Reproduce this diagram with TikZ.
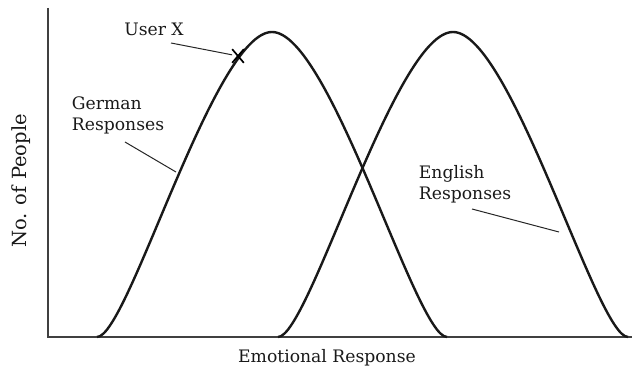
\documentclass[tikz,border=0pt]{standalone}
\usepackage{fontspec}
\setmainfont{DejaVu Serif}
\usetikzlibrary{shapes.misc}
\begin{document}
\begin{tikzpicture}[x=1pt,y=-1pt]
    \tikzstyle{every node}=[inner sep=0pt, font=\fontsize{17.2}{21}\selectfont, text=black!90]
    \tikzstyle{curve}=[black!90, line width=2.4pt]
    \tikzstyle{axis}=[black!75, line width=1.4pt]
    \tikzstyle{leader}=[black!85, line width=1pt]

    \useasboundingbox (0,0) rectangle (633,371);

    \coordinate (o) at (48,337);
    \coordinate (ytop) at (48,8);
    \coordinate (xend) at (632,337);
    \draw[axis] (ytop) -- (o) -- (xend);

    \draw[curve] (97,337) .. controls (128,337) and (214,32) .. (272,32)
                          .. controls (330,32) and (416,337) .. (447,337);
    \draw[curve] (278,337) .. controls (309,337) and (395,32) .. (453,32)
                           .. controls (511,32) and (597,337) .. (628,337);

    \node (people)  at (21,181) [rotate=90, font=\fontsize{19.5}{21}\selectfont] {No. of People};
    \node (emotion) at (327,358) {Emotional Response};

    \node (userx) at (154,29) {User X};
    \node (mark) at (238,56) [draw, cross out, line width=1.7pt, minimum width=10pt, minimum height=12pt] {};
    \node (german)  at (118,115) [align=left] {German\\Responses};
    \node (english) at (465,184) [align=left] {English\\Responses};

    \coordinate (ux) at (171,43);
    \coordinate (gl1) at (125,142);
    \coordinate (gl2) at (176,172);
    \coordinate (el1) at (472,209);
    \coordinate (el2) at (559,232);

    \draw[leader] (ux) -- (mark);
    \draw[leader] (gl1) -- (gl2);
    \draw[leader] (el1) -- (el2);
\end{tikzpicture}
\end{document}
